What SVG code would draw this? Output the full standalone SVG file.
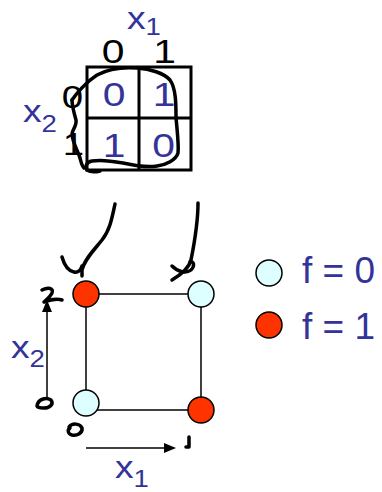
<svg xmlns="http://www.w3.org/2000/svg" width="382" height="492" viewBox="0 0 382 492">
<style>
text{font-family:"Liberation Sans",Arial,sans-serif;text-anchor:middle}
.b{fill:#333399}
.k{fill:#000}
.lab{text-anchor:start;font-size:31px}
.s{font-size:23px}
.hand{fill:none;stroke:#000;stroke-width:3.5;stroke-linecap:round;stroke-linejoin:round}
.edge{stroke:#000;stroke-width:1.5;fill:none}
.f0{fill:#DDFFFF;stroke:#000;stroke-width:1.5}
.f1{fill:#FF3300;stroke:#000;stroke-width:1.5}
.d{font-size:34px}
</style>
<rect width="382" height="492" fill="#fff"/>
<g id="kmap">
<rect x="87" y="67" width="104" height="103" fill="none" stroke="#000" stroke-width="3"/>
<line x1="139" y1="67" x2="139" y2="170" stroke="#000" stroke-width="3"/>
<line x1="87" y1="118" x2="191" y2="118" stroke="#000" stroke-width="3"/>
<g transform="translate(127 28.5) scale(1.2 1)"><text class="b lab">x<tspan class="s" dy="6">1</tspan></text></g>
<g transform="translate(23 122) scale(1.2 1)"><text class="b lab">x<tspan class="s" dy="10">2</tspan></text></g>
<g transform="translate(113 63) scale(1.2 1)"><text class="k d">0</text></g>
<g transform="translate(164.5 63) scale(1.2 1)"><text class="k d">1</text></g>
<g transform="translate(72.5 108) scale(1.2 1)"><text class="k" font-size="32">0</text></g>
<g transform="translate(73.5 155) scale(1.2 1)"><text class="k" font-size="32">1</text></g>
<g transform="translate(114 106) scale(1.2 1)"><text class="b d">0</text></g>
<g transform="translate(164 106) scale(1.2 1)"><text class="b d">1</text></g>
<g transform="translate(114 157) scale(1.2 1)"><text class="b d">1</text></g>
<g transform="translate(163.5 157) scale(1.2 1)"><text class="b d">0</text></g>
<path class="hand" d="M72,100 C76,94 86,82 97,75 C108,69 124,67 137,68 C150,69 164,73 170,80 C176,88 176,105 176,117 C177,130 179,145 178,153 C176,160 166,165 157,166 C146,168 132,165 123,163 C112,161 98,160 92,161 C86,162 85,167 87,170 C90,172 96,172 100,171"/>
<path class="hand" d="M72,100 C72,106 74,113 76,120 C77,126 72,130 72,134 C72,140 76,148 79,155 C81,160 81,165 84,168"/>
</g>
<g id="connectors">
<line class="edge" x1="99" y1="294" x2="188" y2="294"/>
<line class="edge" x1="86" y1="307" x2="86" y2="390"/>
<line class="edge" x1="201" y1="307" x2="201" y2="397"/>
<line class="edge" x1="96" y1="410" x2="188" y2="410"/>
<line class="edge" x1="47" y1="398" x2="47" y2="308"/>
<polygon points="47,300 42,312 52,312" fill="#000"/>
<line class="edge" x1="86" y1="448" x2="166" y2="448"/>
<polygon points="176,448 164,443 164,453" fill="#000"/>
</g>
<g id="n00"><circle class="f0" cx="86" cy="403" r="13"/></g>
<g id="n01"><circle class="f1" cx="86" cy="294" r="13"/></g>
<g id="n10"><circle class="f1" cx="201" cy="410" r="13"/></g>
<g id="n11"><circle class="f0" cx="201" cy="294" r="13"/></g>
<g id="axes-labels">
<g transform="translate(11 358) scale(1.2 1)"><text class="b lab">x<tspan class="s" dy="9">2</tspan></text></g>
<g transform="translate(115 478) scale(1.2 1)"><text class="b lab">x<tspan class="s" dy="9">1</tspan></text></g>
</g>
<g id="handwriting">
<path class="hand" d="M115,204 C112,218 110,230 102,240 C94,250 84,260 82,270 L82,276"/>
<path class="hand" d="M62,257 C64,264 68,271 74,272 C78,273 81,270 82,266"/>
<path class="hand" d="M198,203 C198,225 194,245 191,260 C189,268 182,274 172,280"/>
<path class="hand" d="M172,266 C178,272 186,274 191,270 C195,266 194,261 190,262"/>
<path class="hand" d="M42,290 C48,287 54,288 52,293 C50,297 46,300 44,302 C50,300 56,298 62,300"/>
<path class="hand" d="M37,406 C38,399 46,397 51,400 C54,404 50,408 44,408 C40,408 37,407 37,406"/>
<path class="hand" d="M69,427 C72,423 80,423 82,428 C83,433 77,436 72,435 C68,434 67,430 70,428"/>
<path class="hand" d="M189,437 L189,447 L186,447"/>
</g>
<g id="legend">
<g id="leg0"><circle class="f0" cx="269" cy="273" r="13"/><text class="b" x="302" y="283" font-size="37" style="text-anchor:start">f = 0</text></g>
<g id="leg1"><circle class="f1" cx="269" cy="325" r="13"/><text class="b" x="302" y="339" font-size="37" style="text-anchor:start">f = 1</text></g>
</g>
</svg>
